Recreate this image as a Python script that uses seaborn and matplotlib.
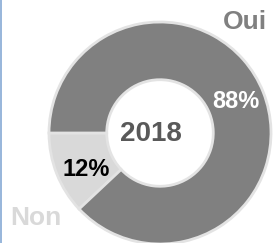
import matplotlib
matplotlib.use("Agg")
import matplotlib.pyplot as plt
import seaborn as sns
from matplotlib.lines import Line2D

sns.set_theme(style="white")
plt.rcParams['font.family'] = ['Liberation Sans', 'DejaVu Sans']

categories = ["Non", "Oui"]
values = [12, 88]
pct_labels = ["12%", "88%"]
year = "2018"
colors = ["#d9d9d9", "#808080"]
pct_colors = ["#000000", "#ffffff"]

fig = plt.figure(figsize=(2.75, 2.43), dpi=100)
W, H = 275, 243
cx, cy, r = 160, 133, 111
ax = fig.add_axes([(cx - r) / W, (H - cy - r) / H, 2 * r / W, 2 * r / H])
ax.pie(values, colors=colors, startangle=180, counterclock=True, radius=1.0,
       wedgeprops=dict(width=0.52, edgecolor="#e3e3e3", linewidth=2))
ax.set_xlim(-1.0, 1.0)
ax.set_ylim(-1.0, 1.0)
ax.set_aspect("equal")
ax.axis("off")

def d(px, py):
    return ((px - cx) / r, (cy - py) / r)

ax.text(*d(151, 134), year, ha="center", va="center", fontsize=20,
        fontweight="bold", color="#595959")
ax.text(*d(86, 170), pct_labels[0], ha="center", va="center", fontsize=17,
        fontweight="bold", color=pct_colors[0])
ax.text(*d(236, 101), pct_labels[1], ha="center", va="center", fontsize=17,
        fontweight="bold", color=pct_colors[1])
fig.text(245 / W, 1 - 22 / H, categories[1], ha="center", va="center",
         fontsize=19, fontweight="bold", color=colors[1])
fig.text(36 / W, 1 - 218 / H, categories[0], ha="center", va="center",
         fontsize=19, fontweight="bold", color=colors[0])

fig.add_artist(Line2D([0.8 / W, 0.8 / W], [0, 1], transform=fig.transFigure,
                      color="#8fb0d8", linewidth=1.3))

fig.savefig("out.png", dpi=100, facecolor="white")
